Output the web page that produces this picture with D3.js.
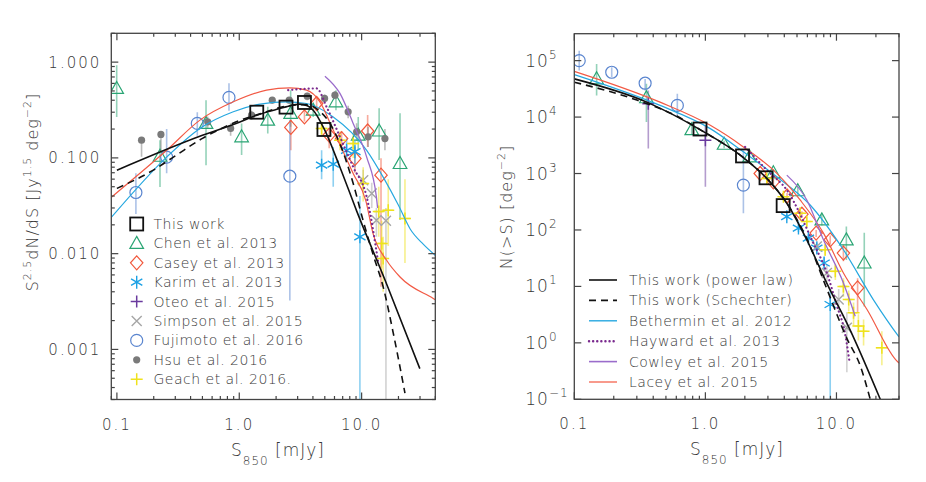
<!DOCTYPE html>
<html><head><meta charset="utf-8">
<script src="https://cdn.jsdelivr.net/npm/d3@7"></script>
<style>
body{margin:0;background:#fff}
svg{display:block}
text{font-family:"DejaVu Sans",sans-serif;fill:#383838;font-weight:200}
</style>
</head><body><svg id="c" width="926" height="482"></svg>
<script>
// ---------------- LEFT PANEL DATA: S^2.5 dN/dS ----------------
// points: [S, value, lowErr, highErr]
const thisWorkDiff = [[1.39,0.30],[2.41,0.339],[3.41,0.379],[4.92,0.198]];
const chenDiff = [[0.0996,0.531,0.268,0.93],[0.225,0.104,0.0498,0.153],[0.535,0.229,0.0837,0.40],[1.045,0.166,0.107,0.228],[1.71,0.248,0.180,0.341],[2.63,0.291,0.211,0.51],[4.02,0.315,0.268,0.37],[6.17,0.385,0.315,0.51],[9.38,0.173,0.120,0.268],[13.9,0.191,0.095,0.33],[20.6,0.0874,0.0224,0.293]];
const caseyDiff = [[2.64,0.208,0.120,0.248],[3.41,0.268,0.24,0.31],[4.29,0.370,0.315,0.43],[5.43,0.173,0.126,0.204],[6.86,0.159,0.12,0.19],[8.81,0.0985,0.07,0.13],[11.2,0.191,0.13,0.28],[14.4,0.066,0.0045,0.099]];
const karimDiff = [[4.71,0.0839,0.06,0.12],[5.86,0.086,0.05,0.13],[7.54,0.120,0.09,0.16],[8.81,0.116,0.08,0.15],[9.68,0.0150,0.0001,0.04]];
const oteoDiff = [];
const simpsonDiff = [[10.3,0.0585,0.045,0.075],[12.1,0.0425,0.03,0.055],[13.2,0.0223,0.015,0.03],[15.8,0.022,0.0001,0.03]];
const fujimotoDiff = [[0.143,0.0435,0.026,0.069],[0.255,0.102,0.069,0.2],[0.454,0.229,0.17,0.30],[0.824,0.428,0.31,0.6],[2.59,0.0644,0.00325,0.248]];
const hsuDiff = [[0.159,0.153,0.103,0.153],[0.229,0.176,0.12,0.176],[0.552,0.238,0.2,0.27],[0.85,0.203,0.17,0.23],[1.26,0.279,0.25,0.31],[1.86,0.401,0.37,0.43],[2.56,0.401,0.37,0.43],[3.59,0.441,0.40,0.48],[4.98,0.418,0.38,0.46],[6.05,0.452,0.41,0.50],[7.76,0.303,0.26,0.35],[9.1,0.187,0.15,0.23],[11.3,0.166,0.13,0.21],[15.5,0.159,0.12,0.2]];
// Geach: [S, value, lo, hi, Slo, Shi]
const geachDiff = [[4.71,0.203,0.17,0.24,4.3,5.2],[6.65,0.153,0.12,0.19,6.1,7.3],[8.53,0.141,0.10,0.18,7.8,9.3],[10.3,0.054,0.035,0.08,9.5,11.2],[13.8,0.0275,0.015,0.05,12.6,15],[16.5,0.0284,0.012,0.06,15,18],[14.6,0.0128,0.007,0.022,13.5,15.8],[15.0,0.0089,0.004,0.015,14,16],[22.6,0.0233,0.008,0.06,20.5,25]];
// model curves
const powerLawDiff = [[0.1,0.0743],[0.5,0.172],[1.0,0.235],[1.39,0.279],[2.0,0.32],[2.41,0.341],[3.13,0.364],[3.6,0.35],[4.02,0.315],[4.92,0.203],[6.65,0.08],[9.1,0.028],[16.0,0.00483],[29.9,0.00063]];
const schechterDiff = [[0.1,0.048],[0.2,0.075],[0.3,0.105],[0.5,0.16],[0.7,0.2],[1.0,0.245],[1.5,0.29],[2.5,0.35],[3.5,0.36],[4.5,0.31],[5.5,0.23],[6.65,0.14],[8.5,0.055],[10.3,0.022],[12.5,0.0095],[15,0.0045],[18.1,0.0015],[22.6,0.00035]];
const betherminDiff = [[0.0907,0.0242],[0.255,0.102],[0.477,0.203],[0.894,0.303],[1.48,0.364],[2.44,0.385],[3.55,0.370],[5.86,0.268],[11,0.12],[15,0.063],[20,0.032],[25,0.018],[32,0.0125],[40,0.0096]];
const haywardDiff = [[2.51,0.51],[4.29,0.531],[5.17,0.341],[6.65,0.166],[8.53,0.0805],[11.0,0.0391],[13.7,0.00788]];
const cowleyDiff = [[5.01,0.714],[6.65,0.471],[8.53,0.229],[11.0,0.102],[13.2,0.0391],[13.5,0.030]];
const laceyDiff = [[0.0907,0.0391],[0.255,0.120],[0.477,0.248],[0.894,0.385],[1.67,0.510],[2.59,0.539],[3.55,0.510],[4.56,0.385],[5.86,0.195],[8.53,0.0687],[10.8,0.036],[12.4,0.0162],[16.0,0.00853],[20.6,0.00571],[38.5,0.0034],[40,0.0033]];

// ---------------- RIGHT PANEL DATA: N(>S) ----------------
const thisWorkCum = [[0.91,6140],[1.92,2050],[2.90,840],[3.92,270]];
const chenCum = [[0.148,47600,24000,87000],[0.355,22000,8170,38800],[0.787,6000,4800,7500],[1.39,3300,2800,3800],[2.17,1970,1700,2300],[3.30,1030,900,1200],[5.07,495,420,580],[7.73,151,120,190],[11.9,66.8,29.5,115],[16.3,26,4.4,89]];
const caseyCum = [[2.62,1000,900,1100],[3.30,714,640,800],[4.2,400,350,450],[5.45,190,165,215],[7.0,88,75,100],[8.96,67,55,80],[11.3,39,28,55],[14.5,9.4,3.5,14]];
const karimCum = [[4.18,172,150,195],[5.13,108,92,125],[6.11,71.6,60,85],[7.08,47.8,38,58],[8.05,26,20,33],[8.96,4.78,0.05,9]];
const oteoCum = [[0.367,17200,2770,29600],[1.0,3880,582,7140]];
const simpsonCum = [[7.08,51,40,65],[8.45,17.3,12,24],[10.4,5.85,3.5,9],[12.0,1.85,0.3,3.5]];
const fujimotoCum = [[0.109,100000,66700,150000],[0.193,62200,50800,76200],[0.347,39800,29600,47500],[0.611,16100,10000,25900],[1.95,624,198,2590]];
const geachCum = [[2.94,820,700,950,2.75,3.15],[3.94,388,330,450,3.65,4.25],[5.28,198,165,235,4.9,5.7],[5.94,141,115,170,5.5,6.4],[8.2,44.6,35,55,7.6,8.8],[9.8,18.5,13,25,9.1,10.5],[11.3,10,6.5,14,10.5,12.1],[12.4,5.85,3.6,8.5,11.6,13.2],[13.5,3.4,2,5.2,12.6,14.4],[14.7,1.98,1.1,3.2,13.7,15.7],[16.1,1.61,0.9,2.6,15,17.2],[22.2,0.82,0.4,1.6,20,24.5]];
const powerLawCum = [[0.1,47500],[0.357,18400],[0.91,6000],[1.92,1970],[2.94,820],[4.18,297],[5.94,66.8],[8.45,11.3],[12.7,1.7],[21.6,0.1]];
const schechterCum = [[0.1,41500],[0.3,20000],[0.6,10500],[0.91,6000],[1.92,1970],[2.94,820],[4.18,300],[5.94,70],[8.45,9],[12,1.2],[15.2,0.39],[18.1,0.1]];
const betherminCum = [[0.1,56600],[0.451,16100],[1.09,6240],[1.95,2420],[3.51,875],[6.30,277],[11.3,44.6],[19.1,5.85],[29.7,1.32],[30,1.28]];
const haywardCum = [[2.01,2960],[2.94,1150],[4.18,509],[6.67,58.5],[8.45,17.3],[10.1,4.46],[11.6,1.51],[12.6,0.45]];
const cowleyCum = [[4.18,937],[5.94,340],[7.96,66.8],[11.3,11.5],[13.9,2.97]];
const laceyCum = [[0.1,64700],[0.451,18400],[1.09,7140],[1.95,2960],[3.51,1005],[5.28,340],[7.96,87.9],[11.3,17.3],[17.1,3.9],[29.7,0.448],[30,0.44]];

// tick labels
const leftXTickLabels = ["0.1","1.0","10.0"];
const leftYTickLabels = ["0.001","0.010","0.100","1.000"];
const rightXTickLabels = ["0.1","1.0","10.0"];
const rightYExponents = ["\u22121","0","1","2","3","4","5"];

const leftLegend = ["This work","Chen et al. 2013","Casey et al. 2013","Karim et al. 2013","Oteo et al. 2015","Simpson et al. 2015","Fujimoto et al. 2016","Hsu et al. 2016","Geach et al. 2016."];
const rightLegend = ["This work (power law)","This work (Schechter)","Bethermin et al. 2012","Hayward et al. 2013","Cowley et al. 2015","Lacey et al. 2015"];

// ---------------- STYLES ----------------
const C = {
  chen:"#2aa574", casey:"#f1583c", karim:"#1da1e4", oteo:"#6a3a9e", simpson:"#a6a6a6",
  fuji:"#5a85cf", hsu:"#7a7a7a", geach:"#efe21c",
  beth:"#27a8e0", hay:"#7a2a8e", cow:"#9a6ccb", lacey:"#f25a45"
};

const svg = d3.select("#c");

function sym(g, type, cx, cy, color){
  const s = g.append("g").attr("transform",`translate(${cx},${cy})`);
  const st = (el,w)=>el.attr("fill","none").attr("stroke",color).attr("stroke-width",w||1.2);
  if(type==="square") st(s.append("rect").attr("x",-6.5).attr("y",-6.5).attr("width",13).attr("height",13),1.8);
  else if(type==="tri") st(s.append("path").attr("d","M0,-7L6.8,5L-6.8,5Z"));
  else if(type==="diamond") st(s.append("path").attr("d","M0,-7L6.2,0L0,7L-6.2,0Z"));
  else if(type==="circle") st(s.append("circle").attr("r",6));
  else if(type==="dot") s.append("circle").attr("r",3.6).attr("fill",color);
  else if(type==="plus") st(s.append("path").attr("d","M-6,0H6M0,-6V6"),1.5);
  else if(type==="x") st(s.append("path").attr("d","M-5,-5L5,5M-5,5L5,-5"),1.4);
  else if(type==="ast"){
    const r=6.5, a=Math.PI/6;
    st(s.append("path").attr("d",`M0,${-r}V${r}M${-r*Math.cos(a)},${-r*Math.sin(a)}L${r*Math.cos(a)},${r*Math.sin(a)}M${-r*Math.cos(a)},${r*Math.sin(a)}L${r*Math.cos(a)},${-r*Math.sin(a)}`),1.4);
  }
}

function panel(o){
  const g = svg.append("g");
  const x = d3.scaleLog().domain(o.xd).range(o.xr);
  const y = d3.scaleLog().domain(o.yd).range(o.yr);
  const clipId = "clip"+o.id;
  svg.append("clipPath").attr("id",clipId).append("rect")
    .attr("x",o.xr[0]).attr("y",o.yr[1]).attr("width",o.xr[1]-o.xr[0]).attr("height",o.yr[0]-o.yr[1]);
  const pg = g.append("g").attr("clip-path",`url(#${clipId})`);
  const yc = v => Math.max(o.yd[0], Math.min(o.yd[1], v));

  o.points.forEach(p=>{
    p.data.forEach(d=>{
      if(d.length>=4 && (d[2]!==d[1] || d[3]!==d[1]))
        pg.append("line").attr("x1",x(d[0])).attr("x2",x(d[0])).attr("y1",y(yc(d[2]))).attr("y2",y(yc(d[3])))
          .attr("stroke",p.color).attr("stroke-opacity",0.5).attr("stroke-width",1.6);
      if(d.length>=6)
        pg.append("line").attr("x1",x(d[4])).attr("x2",x(d[5])).attr("y1",y(d[1])).attr("y2",y(d[1]))
          .attr("stroke",p.color).attr("stroke-opacity",0.5).attr("stroke-width",1.6);
    });
  });
  o.points.forEach(p=>{ p.data.forEach(d=> sym(pg,p.type,x(d[0]),y(d[1]),p.color)); });
  const line = d3.line().x(d=>x(d[0])).y(d=>y(d[1])).curve(d3.curveMonotoneX);
  o.lines.forEach(l=>{
    pg.append("path").attr("d",line(l.data)).attr("fill","none").attr("stroke",l.color)
      .attr("stroke-width",l.w).attr("stroke-dasharray",l.dash||null).attr("stroke-linecap",l.cap||"butt");
  });
  o.top.data.forEach(d=> sym(pg,"square",x(d[0]),y(d[1]),"#111"));

  g.append("rect").attr("x",o.xr[0]).attr("y",o.yr[1]).attr("width",o.xr[1]-o.xr[0]).attr("height",o.yr[0]-o.yr[1])
    .attr("fill","none").attr("stroke","#444").attr("stroke-width",1.3);
  const isMajor = v => Math.abs(Math.log10(v)-Math.round(Math.log10(v)))<1e-6;
  x.ticks().forEach(v=>{
    const len = isMajor(v)?7:3.5, px=x(v);
    g.append("line").attr("x1",px).attr("x2",px).attr("y1",o.yr[0]).attr("y2",o.yr[0]-len).attr("stroke","#444").attr("stroke-width",1.2);
    g.append("line").attr("x1",px).attr("x2",px).attr("y1",o.yr[1]).attr("y2",o.yr[1]+len).attr("stroke","#444").attr("stroke-width",1.2);
  });
  const xMaj = x.ticks().filter(isMajor);
  xMaj.forEach((v,i)=>{
    g.append("text").attr("x",x(v)).attr("y",o.yr[0]+30).attr("text-anchor","middle")
      .style("font-size","15px").style("letter-spacing","2px").text(o.xLabels[i]);
  });
  y.ticks().forEach(v=>{
    const maj = isMajor(v);
    if(!maj && !o.yMinor) return;
    const len = maj?7:3.5, py=y(v);
    g.append("line").attr("x1",o.xr[0]).attr("x2",o.xr[0]+len).attr("y1",py).attr("y2",py).attr("stroke","#444").attr("stroke-width",1.2);
    g.append("line").attr("x1",o.xr[1]).attr("x2",o.xr[1]-len).attr("y1",py).attr("y2",py).attr("stroke","#444").attr("stroke-width",1.2);
  });
  const yMaj = y.ticks().filter(isMajor);
  yMaj.forEach((v,i)=>{
    if(o.yExp){
      const t = g.append("text").attr("x",o.xr[0]-49).attr("y",y(v)+6).style("font-size","17px").style("letter-spacing","1px");
      t.append("tspan").text("10");
      t.append("tspan").attr("dy",-8).style("font-size","12px").text(o.yExp[i]);
    } else {
      g.append("text").attr("x",o.xr[0]-10).attr("y",y(v)+5.5).attr("text-anchor","end")
        .style("font-size","15px").style("letter-spacing","2px").text(o.yLabels[i]);
    }
  });
  const xt = g.append("text").attr("x",o.xTitleX).attr("y",o.yr[0]+56).attr("text-anchor","middle").style("font-size","17px").style("letter-spacing","1px");
  xt.append("tspan").text("S");
  xt.append("tspan").attr("dy",9).style("font-size","12px").text("850");
  xt.append("tspan").attr("dy",-9).text("\u00a0[mJy]");
  return {x,y,g};
}

const L = panel({
  id:"L", xd:[0.09,40], xr:[111.3,435.3], yd:[0.0003,2], yr:[399.5,33.3], yMinor:true,
  xLabels:leftXTickLabels, yLabels:leftYTickLabels, xTitleX:278,
  points:[
    {data:chenDiff,type:"tri",color:C.chen},
    {data:caseyDiff,type:"diamond",color:C.casey},
    {data:karimDiff,type:"ast",color:C.karim},
    {data:oteoDiff,type:"plus",color:C.oteo},
    {data:simpsonDiff,type:"x",color:C.simpson},
    {data:fujimotoDiff,type:"circle",color:C.fuji},
    {data:hsuDiff,type:"dot",color:C.hsu},
    {data:geachDiff,type:"plus",color:C.geach}
  ],
  lines:[
    {data:betherminDiff,color:C.beth,w:1.2},
    {data:laceyDiff,color:C.lacey,w:1.2},
    {data:haywardDiff,color:C.hay,w:2.2,dash:"0.1,4",cap:"round"},
    {data:cowleyDiff,color:C.cow,w:1.3},
    {data:schechterDiff,color:"#111",w:1.6,dash:"7,5"},
    {data:powerLawDiff,color:"#111",w:1.6}
  ],
  top:{data:thisWorkDiff}
});
{
  const t = svg.append("text").attr("transform","translate(38,192) rotate(-90)").attr("text-anchor","middle")
    .style("font-size","16px").style("letter-spacing","1px");
  t.append("tspan").text("S");
  t.append("tspan").attr("dy",-7).style("font-size","11px").text("2.5");
  t.append("tspan").attr("dy",7).text("dN/dS [Jy");
  t.append("tspan").attr("dy",-7).style("font-size","11px").text("1.5");
  t.append("tspan").attr("dy",7).text(" deg");
  t.append("tspan").attr("dy",-7).style("font-size","11px").text("\u22122");
  t.append("tspan").attr("dy",7).text("]");
}
{
  const types = ["square","tri","diamond","ast","plus","x","circle","dot","plus"];
  const cols = ["#111",C.chen,C.casey,C.karim,C.oteo,C.simpson,C.fuji,C.hsu,C.geach];
  leftLegend.forEach((lab,i)=>{
    const cy = 224 + i*19.4;
    sym(svg, types[i], 136.7, cy, cols[i]);
    svg.append("text").attr("x",153.5).attr("y",cy+5).style("font-size","14px").style("letter-spacing","0.5px").text(lab);
  });
}

const R = panel({
  id:"R", xd:[0.1,30], xr:[574.3,899], yd:[0.1,3e5], yr:[399.3,33.7], yMinor:false,
  xLabels:rightXTickLabels, yExp:rightYExponents, xTitleX:737,
  points:[
    {data:chenCum,type:"tri",color:C.chen},
    {data:caseyCum,type:"diamond",color:C.casey},
    {data:karimCum,type:"ast",color:C.karim},
    {data:oteoCum,type:"plus",color:C.oteo},
    {data:simpsonCum,type:"x",color:C.simpson},
    {data:fujimotoCum,type:"circle",color:C.fuji},
    {data:geachCum,type:"plus",color:C.geach}
  ],
  lines:[
    {data:betherminCum,color:C.beth,w:1.2},
    {data:laceyCum,color:C.lacey,w:1.2},
    {data:haywardCum,color:C.hay,w:2.2,dash:"0.1,4",cap:"round"},
    {data:cowleyCum,color:C.cow,w:1.3},
    {data:schechterCum,color:"#111",w:1.6,dash:"7,5"},
    {data:powerLawCum,color:"#111",w:1.6}
  ],
  top:{data:thisWorkCum}
});
{
  const t = svg.append("text").attr("transform","translate(512,207) rotate(-90)").attr("text-anchor","middle")
    .style("font-size","16px").style("letter-spacing","1px");
  t.append("tspan").text("N(>S)  [deg");
  t.append("tspan").attr("dy",-7).style("font-size","11px").text("\u22122");
  t.append("tspan").attr("dy",7).text("]");
}
{
  const styles = [
    {c:"#111",w:1.6},{c:"#111",w:1.6,d:"7,5"},{c:C.beth,w:1.4},{c:C.hay,w:2.4,d:"0.1,4",cap:"round"},{c:C.cow,w:1.6},{c:"#f7806f",w:1.6}
  ];
  rightLegend.forEach((lab,i)=>{
    const cy = 280 + i*20.4;
    svg.append("line").attr("x1",589).attr("x2",617).attr("y1",cy).attr("y2",cy)
      .attr("stroke",styles[i].c).attr("stroke-width",styles[i].w).attr("stroke-dasharray",styles[i].d||null).attr("stroke-linecap",styles[i].cap||"butt");
    svg.append("text").attr("x",629).attr("y",cy+5).style("font-size","14px").style("letter-spacing","0.5px").text(lab);
  });
}
</script>
</body></html>
